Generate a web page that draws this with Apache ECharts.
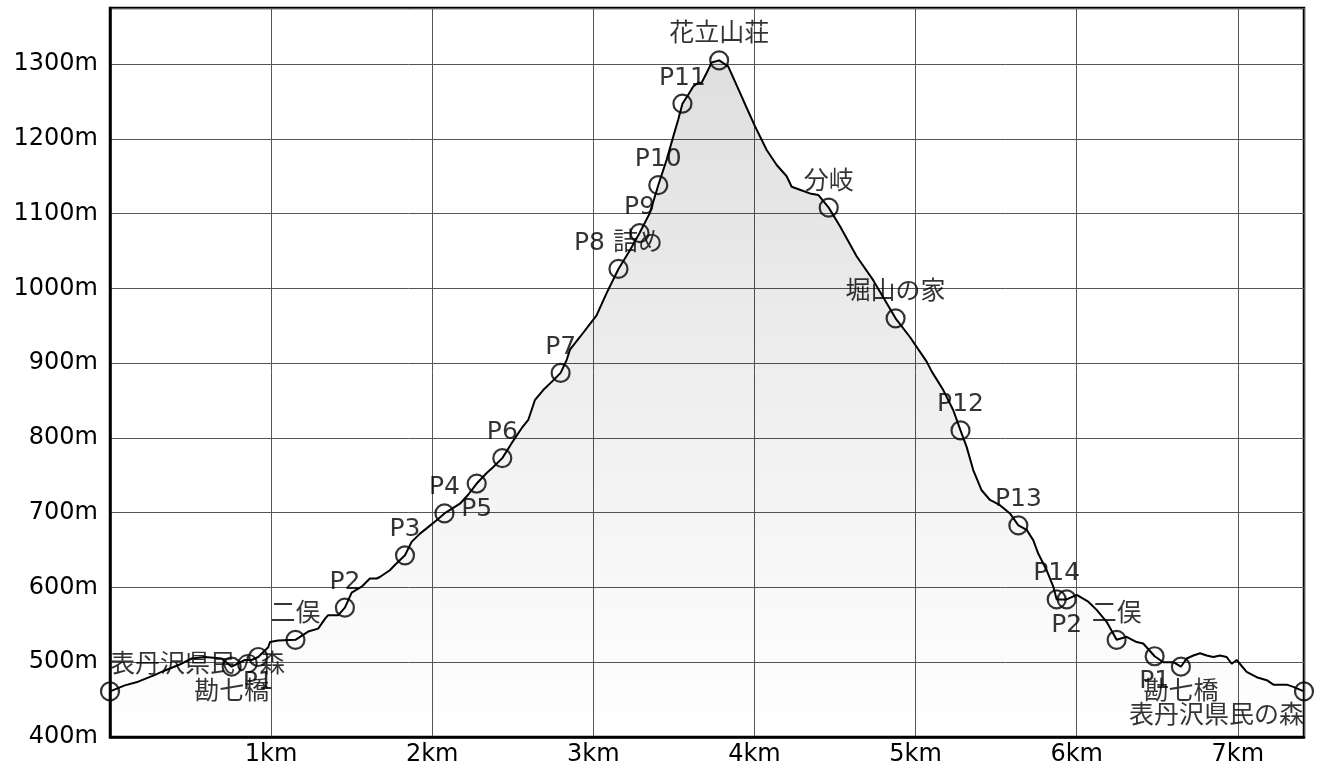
<!DOCTYPE html>
<html>
<head>
<meta charset="utf-8">
<script src="https://cdn.jsdelivr.net/npm/echarts@6/dist/echarts.min.js"></script>
<style>
html,body{margin:0;padding:0;background:#fff;}
#chart{width:1325px;height:779px;}
</style>
</head>
<body>
<div id="chart"></div>
<script>
// ---- Data (distance in km, elevation in m) ----
const profileKm = [
  0, 0.092, 0.175, 0.279, 0.341, 0.444, 0.507, 0.589, 0.693, 0.755,
  0.837, 0.879, 0.920, 0.982, 0.993, 1.044, 1.151, 1.230, 1.292, 1.334,
  1.354, 1.417, 1.458, 1.500, 1.562, 1.613, 1.655, 1.675, 1.737, 1.768,
  1.831, 1.872, 1.924, 1.965, 2.027, 2.076, 2.172, 2.223, 2.276, 2.338,
  2.379, 2.435, 2.493, 2.555, 2.596, 2.638, 2.689, 2.751, 2.797, 2.834,
  2.855, 2.917, 3.020, 3.083, 3.156, 3.227, 3.287, 3.351, 3.403, 3.455,
  3.496, 3.527, 3.553, 3.589, 3.620, 3.651, 3.672, 3.703, 3.734, 3.781,
  3.837, 3.930, 4.003, 4.076, 4.138, 4.200, 4.231, 4.282, 4.344, 4.396,
  4.461, 4.531, 4.634, 4.737, 4.876, 4.965, 5.069, 5.100, 5.172, 5.234,
  5.279, 5.317, 5.358, 5.410, 5.462, 5.524, 5.586, 5.638, 5.690, 5.731,
  5.762, 5.814, 5.855, 5.876, 5.938, 6.000, 6.072, 6.124, 6.186, 6.248,
  6.310, 6.372, 6.413, 6.484, 6.537, 6.600, 6.647, 6.683, 6.724, 6.766,
  6.807, 6.848, 6.889, 6.931, 6.962, 6.993, 7.055, 7.117, 7.180, 7.221,
  7.304, 7.345, 7.411
];
const profileElev = [
  461, 469, 474, 483, 489, 498, 505, 507, 505, 494,
  503, 503, 507, 520, 527, 529, 530, 541, 545, 558,
  563, 563, 573, 593, 601, 612, 612, 614, 623, 630,
  643, 661, 672, 679, 690, 699, 712, 724, 739, 753,
  761, 773, 793, 813, 824, 851, 864, 877, 887, 904,
  918, 935, 964, 994, 1026, 1051, 1074, 1101, 1138, 1172,
  1203, 1226, 1247, 1259, 1270, 1275, 1275, 1288, 1302, 1305,
  1297, 1252, 1217, 1185, 1165, 1150, 1136, 1132, 1127, 1125,
  1108, 1083, 1043, 1011, 960, 935, 902, 889, 864, 837,
  810, 788, 757, 730, 717, 710, 699, 683, 677, 663,
  645, 623, 601, 584, 584, 590, 581, 570, 554, 530,
  534, 527, 525, 508, 500, 500, 494, 505, 509, 512,
  509, 507, 509, 507, 498, 503, 487, 480, 476, 470,
  470, 467, 461
];
const pointNames = [
  '表丹沢県民の森', '勘七橋', 'P1', '二俣', 'P2', 'P3', 'P4', 'P5', 'P6', 'P7',
  'P8 詰め', 'P9', 'P10', 'P11', '花立山荘', '分岐', '堀山の家', 'P12', 'P13', 'P14',
  'P2', '二俣', 'P1', '勘七橋', '表丹沢県民の森'
];
const pointKm = [
  0, 0.755, 0.920, 1.151, 1.458, 1.831, 2.076, 2.276, 2.435, 2.797,
  3.156, 3.287, 3.403, 3.553, 3.781, 4.461, 4.876, 5.279, 5.638, 5.876,
  5.938, 6.248, 6.484, 6.647, 7.411
];
const pointElev = [
  461, 494, 507, 530, 573, 643, 699, 739, 773, 887,
  1026, 1074, 1138, 1247, 1305, 1108, 960, 810, 683, 584,
  584, 530, 508, 494, 461
];
const xTicks = [1, 2, 3, 4, 5, 6, 7];
const yTicks = [400, 500, 600, 700, 800, 900, 1000, 1100, 1200, 1300];

// ---- Label placement (styling only) ----
const labelSide = [
  'top', 'bottom', 'bottom', 'top', 'top', 'top', 'top', 'bottom', 'top', 'top',
  'top', 'top', 'top', 'top', 'top', 'top', 'top', 'top', 'top', 'top',
  'bottom', 'top', 'bottom', 'bottom', 'bottom'
];
const labelAlign = { 0: 'left', 24: 'right' };

const FONT = "'DejaVu Sans', 'Noto Sans CJK JP', sans-serif";
const xMax = profileKm[profileKm.length - 1];

const lineData = profileKm.map((k, i) => [k, profileElev[i]]);
const pointData = pointKm.map((k, i) => {
  const lab = { position: labelSide[i] };
  if (labelAlign[i]) lab.align = labelAlign[i];
  return { value: [k, pointElev[i]], name: pointNames[i], label: lab };
});

const chart = echarts.init(document.getElementById('chart'), null, { renderer: 'canvas' });
chart.setOption({
  animation: false,
  backgroundColor: '#ffffff',
  grid: {
    left: 110, right: 21, top: 8, bottom: 42,
    show: true, borderColor: '#000', borderWidth: 2.5, backgroundColor: 'transparent'
  },
  xAxis: {
    type: 'value', min: 0, max: xMax, interval: 1,
    axisLine: { show: true, lineStyle: { color: '#000', width: 2.5 } },
    axisTick: { show: false },
    splitLine: { show: true, lineStyle: { color: '#555', width: 1 } },
    axisLabel: {
      color: '#000', fontSize: 24, fontFamily: FONT, margin: 6,
      showMinLabel: false, showMaxLabel: false,
      formatter: v => (xTicks.indexOf(Math.round(v * 1000) / 1000) >= 0 ? v + 'km' : '')
    }
  },
  yAxis: {
    type: 'value', min: 400, max: 1375, interval: 100,
    axisLine: { show: true, lineStyle: { color: '#000', width: 2.5 } },
    axisTick: { show: false },
    splitLine: { show: true, lineStyle: { color: '#555', width: 1 } },
    axisLabel: {
      color: '#000', fontSize: 24, fontFamily: FONT, margin: 12,
      showMaxLabel: false,
      formatter: v => (yTicks.indexOf(v) >= 0 ? v + 'm' : '')
    }
  },
  series: [
    {
      type: 'line',
      data: lineData,
      symbol: 'none',
      smooth: false,
      lineStyle: { color: '#000', width: 2 },
      areaStyle: {
        origin: 'start',
        color: new echarts.graphic.LinearGradient(0, 0, 0, 1, [
          { offset: 0, color: 'rgba(0,0,0,0.18)' },
          { offset: 1, color: 'rgba(0,0,0,0.0)' }
        ])
      },
      z: 2
    },
    {
      type: 'scatter',
      data: pointData,
      symbol: 'circle',
      symbolSize: 18,
      itemStyle: { color: 'rgba(0,0,0,0)', borderColor: '#000', borderWidth: 2.2 },
      label: {
        show: true,
        formatter: p => p.name,
        color: '#000', fontSize: 25, fontFamily: FONT,
        distance: 3
      },
      labelLayout: { hideOverlap: false },
      z: 3
    }
  ]
});
</script>
</body>
</html>
